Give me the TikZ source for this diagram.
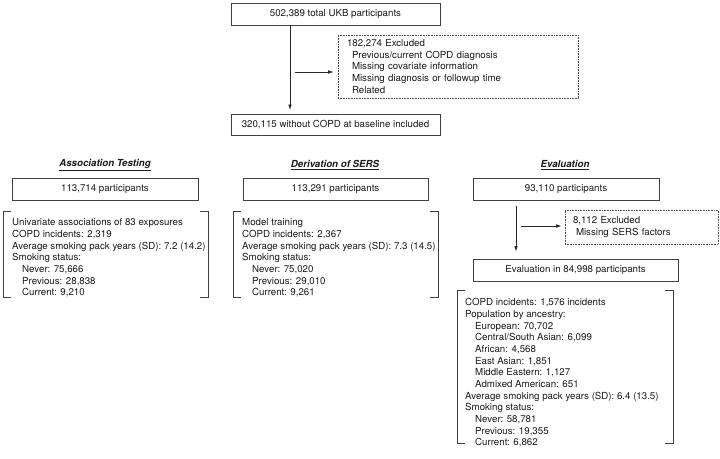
\documentclass[tikz,border=0pt]{standalone}
\usepackage{fontspec}
\setmainfont{TeX Gyre Heros}
\usetikzlibrary{arrows.meta,calc}
\tikzset{
  txt/.style={font=\fontsize{9.7}{11.67}\selectfont, text=black!90},
  solidbox/.style={draw=black!75, line width=0.9pt, txt, inner sep=0pt, minimum height=22pt},
  dashbox/.style={draw=black!70, line width=0.6pt, densely dotted, txt, align=left, inner ysep=0pt},
  listtext/.style={txt, align=left, inner sep=0pt, anchor=north west},
  heading/.style={font=\fontsize{9.7}{11.67}\selectfont\bfseries\itshape, text=black!90, inner sep=0pt},
  bracket/.style={draw=black!75, line width=0.9pt},
  arr/.style={draw=black!85, line width=0.8pt, -{Latex[length=5.5pt,width=3.6pt]}},
}
\newcommand{\ind}[1]{\hspace*{#1pt}}
\begin{document}
\begin{tikzpicture}[x=1pt,y=1pt]
\useasboundingbox (0,0) rectangle (720,-458);

% top flow
\node[solidbox, minimum width=209pt] (top) at (335.5,-14) {502,389 total UKB participants};
\node[solidbox, minimum width=209pt, minimum height=21pt] (incl) at (335.5,-125) {320,115 without COPD at baseline included};
\node[dashbox, minimum width=238pt, minimum height=63pt, text width=222pt, inner xsep=9pt] (ex1) at (458,-66.5)
  {182,274 Excluded\\
   \ind{5}Previous/current COPD diagnosis\\
   \ind{5}Missing covariate information\\
   \ind{5}Missing diagnosis or followup time\\
   \ind{5}Related};
\coordinate (a1) at (290,-72);
\draw[arr, shorten >=4pt] (top.south -| a1) -- (incl.north -| a1);
\draw[arr, shorten <=5pt, shorten >=4pt] (a1) -- (a1 -| ex1.west);

% headings
\node[heading] (h1) at (105,-165) {\underline{Association Testing}};
\node[heading] (h2) at (335,-165) {\underline{Derivation of SERS}};
\node[heading] (h3) at (565,-165) {\underline{Evaluation}};

% participant boxes
\node[solidbox, minimum width=186pt] (p1) at (105,-189) {113,714 participants};
\node[solidbox, minimum width=185pt] (p2) at (335.5,-189) {113,291 participants};
\node[solidbox, minimum width=186pt] (p3) at (566,-189) {93,110 participants};

% bracket 1
\draw[bracket] (11,-211) -- (3,-211) -- (3,-297) -- (11,-297);
\draw[bracket] (200,-211) -- (208,-211) -- (208,-297) -- (200,-297);
\node[listtext] (t1) at (12,-218.5)
  {Univariate associations of 83 exposures\\
   COPD incidents: 2,319\\
   Average smoking pack years (SD): 7.2 (14.2)\\
   Smoking status:\\
   \ind{10}Never: 75,666\\
   \ind{10}Previous: 28,838\\
   \ind{10}Current: 9,210};

% bracket 2
\draw[bracket] (241,-211) -- (233,-211) -- (233,-297) -- (241,-297);
\draw[bracket] (430,-211) -- (438,-211) -- (438,-297) -- (430,-297);
\node[listtext] (t2) at (242,-218.5)
  {Model training\\
   COPD incidents: 2,367\\
   Average smoking pack years (SD): 7.3 (14.5)\\
   Smoking status:\\
   \ind{10}Never: 75,020\\
   \ind{10}Previous: 29,010\\
   \ind{10}Current: 9,261};

% evaluation flow
\node[dashbox, minimum width=153pt, minimum height=34pt, text width=137pt, inner xsep=8pt] (ex2) at (641.5,-227)
  {8,112 Excluded\\
   \ind{3}Missing SERS factors};
\node[solidbox, minimum width=205pt] (evalb) at (575.5,-270) {Evaluation in 84,998 participants};
\coordinate (a2) at (516,-226);
\draw[arr, shorten <=6pt, shorten >=7pt] (p3.south -| a2) -- (evalb.north -| a2);
\draw[arr, shorten <=5pt, shorten >=3pt] (a2) -- (a2 -| ex2.west);

% bracket 3
\draw[bracket] (465,-290) -- (457,-290) -- (457,-443) -- (465,-443);
\draw[bracket] (665,-290) -- (673,-290) -- (673,-443) -- (665,-443);
\node[listtext] (t3) at (465,-298.5)
  {COPD incidents: 1,576 incidents\\
   Population by ancestry:\\
   \ind{10}European: 70,702\\
   \ind{10}Central/South Asian: 6,099\\
   \ind{10}African: 4,568\\
   \ind{10}East Asian: 1,851\\
   \ind{10}Middle Eastern: 1,127\\
   \ind{10}Admixed American: 651\\
   Average smoking pack years (SD): 6.4 (13.5)\\
   Smoking status:\\
   \ind{10}Never: 58,781\\
   \ind{10}Previous: 19,355\\
   \ind{10}Current: 6,862};
\end{tikzpicture}
\end{document}
